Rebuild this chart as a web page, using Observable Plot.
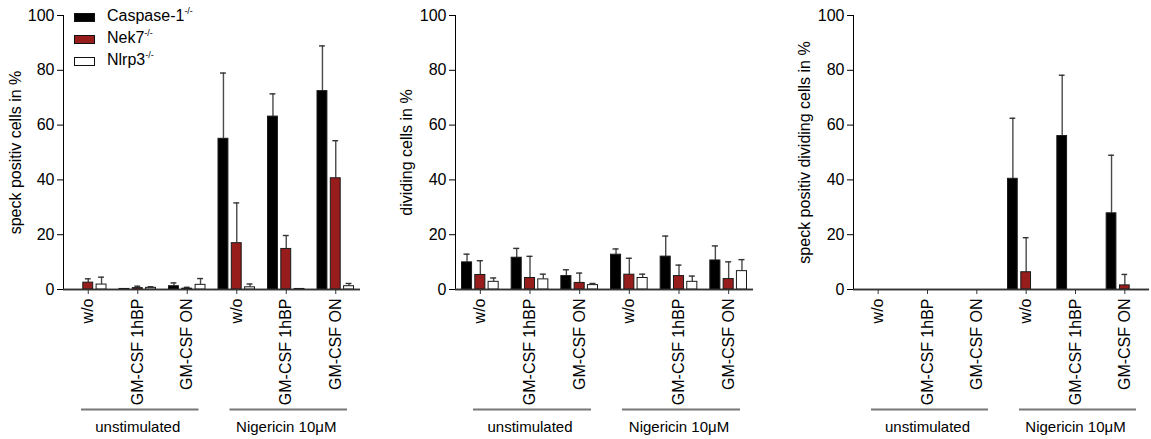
<!DOCTYPE html>
<html>
<head>
<meta charset="utf-8">
<script src="https://cdn.jsdelivr.net/npm/d3@7"></script>
<script src="https://cdn.jsdelivr.net/npm/@observablehq/plot@0.6"></script>
<style>
  body { margin: 0; background: #fff; }
  #chart { position: relative; width: 1151px; height: 439px; overflow: hidden;
           font-family: "Liberation Sans", Arial, sans-serif; background: #fff; }
  .panel { position: absolute; top: 0; }
  .legend { position: absolute; left: 74px; top: 6px; font-size: 16px; color: #000; }
  .legend .row { position: relative; height: 22px; }
  .legend .sw { position: absolute; left: 0; top: 7px; width: 19px; height: 7px; border: 1px solid #111; }
  .legend .lab { position: absolute; left: 33px; top: 1px; white-space: nowrap; line-height: 18px; }
  .legend sup { font-size: 9px; vertical-align: 7px; line-height: 0; }
</style>
</head>
<body>
<div id="chart"></div>
<script>
// ---- categories ----
const stimuli = ["unstimulated", "Nigericin 10μM"];
const treatments = ["w/o", "GM-CSF 1hBP", "GM-CSF ON"];
const genotypes = ["Caspase-1", "Nek7", "Nlrp3"];
const genotypeFills = ["#000000", "#971c1c", "#ffffff"];
const yTicks = [0, 20, 40, 60, 80, 100];

// ---- values (order: unstimulated w/o, 1hBP, ON, Nigericin w/o, 1hBP, ON) ----
// speck positiv cells in %
const speckCasp   = [0,   0.2, 1.2, 55.0, 63.1, 72.4];
const speckCaspSD = [0,   0.1, 1.2, 24.0,  8.3, 16.5];
const speckNek    = [2.5, 0.5, 0.3, 16.9, 14.8, 40.6];
const speckNekSD  = [1.4, 0.7, 0.5, 14.7,  4.9, 13.7];
const speckNlrp   = [1.8, 0.6, 1.7,  0.8,  0.2,  1.2];
const speckNlrpSD = [2.7, 0.4, 2.3,  1.2,  0,    1.0];

// dividing cells in %
const divCasp   = [9.9, 11.6, 4.9, 12.7, 12.0, 10.6];
const divCaspSD = [3.0,  3.4, 2.3,  2.1,  7.5,  5.3];
const divNek    = [5.3,  4.2, 2.4,  5.4,  4.9,  3.8];
const divNekSD  = [5.2,  7.9, 3.6,  6.0,  4.0,  6.3];
const divNlrp   = [2.8,  3.7, 1.6,  4.2,  2.8,  6.7];
const divNlrpSD = [1.4,  1.9, 0.6,  1.4,  2.1,  4.2];

// speck positiv dividing cells in %
const sdivCasp   = [0, 0, 0, 40.4, 56.0, 27.8];
const sdivCaspSD = [0, 0, 0, 22.1, 22.2, 21.2];
const sdivNek    = [0, 0, 0,  6.3,  0,    1.5];
const sdivNekSD  = [0, 0, 0, 12.6,  0,    4.0];
const sdivNlrp   = [0, 0, 0,  0,    0,    0];
const sdivNlrpSD = [0, 0, 0,  0,    0,    0];

function makePanel({means, sds, yLabel, marginLeft, width, labelOffset}) {
  const rows = [];
  genotypes.forEach((g, k) => means[k].forEach((v, i) => rows.push({
    stim: stimuli[Math.floor(i / 3)], treat: treatments[i % 3], genotype: g, k,
    value: v, sd: sds[k][i], top: v + sds[k][i]
  })));
  const marks = [
    // baseline, one per stimulus facet (keeps empty facets present)
    Plot.ruleY(stimuli, {fx: d => d, y: () => 0, stroke: "#333", strokeWidth: 1.5}),
    // group bracket line under each stimulus
    Plot.ruleY(stimuli, {fx: d => d, y: () => 0, dy: 120, insetLeft: 18, insetRight: 13, stroke: "#777", strokeWidth: 2})
  ];
  genotypes.forEach((g, k) => {
    const bars = rows.filter(r => r.k === k && r.value > 0);
    const errs = bars.filter(r => r.sd > 0);
    const dx = (k - 1) * 13.3;
    marks.push(
      Plot.ruleX(errs, {fx: "stim", x: "treat", y1: "value", y2: "top", dx, stroke: "#4a4a4a", strokeWidth: 1.4}),
      Plot.tickY(errs, {fx: "stim", x: "treat", y: "top", dx, insetLeft: 21.8, insetRight: 21.8, stroke: "#333", strokeWidth: 1.4}),
      Plot.barY(bars, {fx: "stim", x: "treat", y: "value", dx, insetLeft: 19.8, insetRight: 19.8,
        fill: genotypeFills[k], stroke: "#1a1a1a", strokeWidth: 1})
    );
  });
  marks.push(
    Plot.ruleY(stimuli, {fx: d => d, y: () => 0, stroke: "#333", strokeWidth: 1.5}),
    Plot.axisX({tickRotate: -90, tickSize: 5, tickPadding: 4, fontSize: 16, label: null, stroke: "#333", fill: "#000"}),
    Plot.axisFx({anchor: "bottom", tickSize: 0, tickPadding: 132, fontSize: 15, label: null, fill: "#000"})
  );
  return Plot.plot({
    width, height: 439,
    marginLeft, marginRight: 2, marginTop: 15, marginBottom: 150,
    style: {fontFamily: "'Liberation Sans', Arial, sans-serif", fontSize: "16px", color: "#000", background: "#fff", overflow: "visible"},
    fx: {domain: stimuli, padding: 0, round: false},
    x: {domain: treatments, padding: 0, round: false},
    y: {domain: [0, 100], ticks: yTicks, tickSize: 6, tickPadding: 3, line: true,
        label: yLabel, labelAnchor: "center", labelOffset, labelArrow: "none"},
    marks
  });
}

const chart = document.getElementById("chart");
const panels = [
  {left: 0, means: [speckCasp, speckNek, speckNlrp], sds: [speckCaspSD, speckNekSD, speckNlrpSD],
   yLabel: "speck positiv cells in %", marginLeft: 63, width: 362, labelOffset: 54},
  {left: 380, means: [divCasp, divNek, divNlrp], sds: [divCaspSD, divNekSD, divNlrpSD],
   yLabel: "dividing cells in %", marginLeft: 75, width: 375, labelOffset: 55},
  {left: 760, means: [sdivCasp, sdivNek, sdivNlrp], sds: [sdivCaspSD, sdivNekSD, sdivNlrpSD],
   yLabel: "speck positiv dividing cells in %", marginLeft: 93, width: 391, labelOffset: 55}
];
panels.forEach(p => {
  const div = document.createElement("div");
  div.className = "panel";
  div.style.left = p.left + "px";
  div.appendChild(makePanel(p));
  chart.appendChild(div);
});

// legend
const legend = document.createElement("div");
legend.className = "legend";
genotypes.forEach((g, k) => {
  const row = document.createElement("div");
  row.className = "row";
  const sw = document.createElement("div");
  sw.className = "sw";
  sw.style.background = genotypeFills[k];
  const lab = document.createElement("div");
  lab.className = "lab";
  lab.innerHTML = g + "<sup>-/-</sup>";
  row.appendChild(sw); row.appendChild(lab);
  legend.appendChild(row);
});
chart.appendChild(legend);
</script>
</body>
</html>
